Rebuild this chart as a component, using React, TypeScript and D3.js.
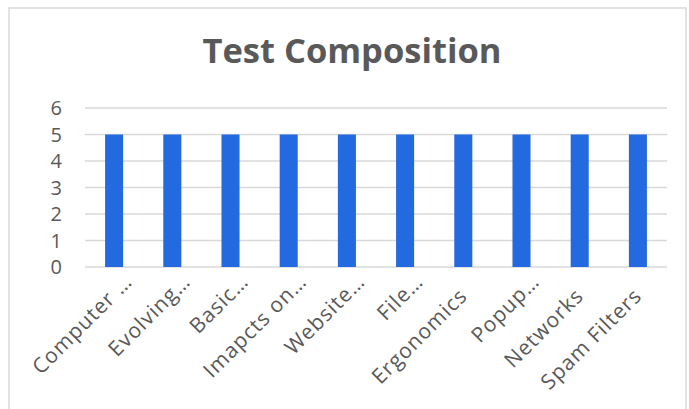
import React from "react";
import { scaleBand, scaleLinear } from "d3";

const categories = [
  "Computer …",
  "Evolving…",
  "Basic…",
  "Imapcts on…",
  "Website…",
  "File…",
  "Ergonomics",
  "Popup…",
  "Networks",
  "Spam Filters"
];
const values = [5, 5, 5, 5, 5, 5, 5, 5, 5, 5];
const yTicks = [0, 1, 2, 3, 4, 5, 6];

const font = "'Open Sans', Lato, sans-serif";
const textColor = "#595959";

function App() {
  const w = 689;
  const h = 409;
  const margin = { top: 108, bottom: 142, left: 85, right: 22 };

  const width = w - margin.left - margin.right;
  const height = h - margin.top - margin.bottom;

  const xScale = scaleBand<string>()
    .domain(categories)
    .range([0, width])
    .paddingInner(0.69)
    .paddingOuter(0.345);

  const yScale = scaleLinear().domain([0, 6]).range([height, 0]);

  return (
    <div style={{ position: "absolute", left: 0, top: 0 }}>
      <svg width={w} height={h} style={{ display: "block", background: "#fff" }}>
        <rect x={9} y={8} width={677} height={420} fill="#fff" stroke="#d9d9d9" strokeWidth={1.5} />
        <text
          x={352}
          y={63}
          textAnchor="middle"
          fontFamily={font}
          fontWeight={700}
          fontSize={34.5}
          fill={textColor}
        >
          Test Composition
        </text>
        <g transform={`translate(${margin.left},${margin.top})`}>
          {yTicks.map(t => (
            <g key={t}>
              <line x1={0} x2={width} y1={yScale(t)} y2={yScale(t)} stroke="#d9d9d9" strokeWidth={1.5} />
              <text
                x={-23}
                y={yScale(t)}
                dy="0.35em"
                textAnchor="end"
                fontFamily={font}
                fontSize={20}
                fill={textColor}
              >
                {t}
              </text>
            </g>
          ))}
          {categories.map((c, i) => (
            <rect
              key={c}
              x={xScale(c)}
              y={yScale(values[i])}
              width={xScale.bandwidth()}
              height={height - yScale(values[i])}
              fill="#2369DF"
            />
          ))}
          {categories.map(c => {
            const cx = (xScale(c) as number) + xScale.bandwidth() / 2;
            const truncated = c.endsWith("…");
            return (
              <g key={c} transform={`translate(${cx},${height + 25}) rotate(-45)`}>
                <text
                  x={truncated ? 20 : 0}
                  y={0}
                  dy="0.35em"
                  textAnchor="end"
                  fontFamily={font}
                  fontSize={21}
                  letterSpacing={1}
                  fill={textColor}
                >
                  {c}
                </text>
              </g>
            );
          })}
        </g>
      </svg>
    </div>
  );
}

export default App;
